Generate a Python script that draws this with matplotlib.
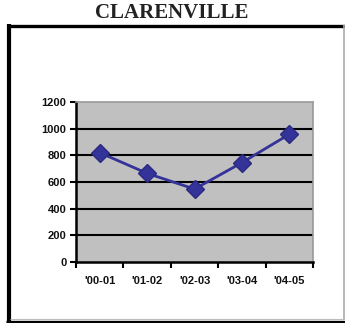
import matplotlib
matplotlib.use("Agg")
import matplotlib.pyplot as plt
from matplotlib.lines import Line2D

# donnees
saisons = ["'00-01", "'01-02", "'02-03", "'03-04", "'04-05"]
valeurs = [820, 665, 547, 745, 958]
graduations = [0, 200, 400, 600, 800, 1000, 1200]

W, H = 345, 323
fig = plt.figure(figsize=(W / 100, H / 100), dpi=100)
fig.patch.set_facecolor("white")

# cadre autour du graphique
def ligne(x0, y0, x1, y1, lw, col):
    fig.add_artist(Line2D([x0 / W, x1 / W], [1 - y0 / H, 1 - y1 / H],
                          transform=fig.transFigure, lw=lw, color=col,
                          solid_capstyle="butt"))

ligne(8.5, 25.5, W, 25.5, 2.4, "black")
ligne(8.5, 24, 8.5, H, 3.0, "black")
ligne(6, 321.5, W, 321.5, 2.4, "black")
ligne(343.5, 25, 343.5, 320, 1.2, "#aaaaaa")
ligne(10, 318.5, 343, 318.5, 0.8, "#bbbbbb")

fig.text(172 / W, 1 - 12.5 / H, "CLARENVILLE", ha="center", va="center",
         family="Liberation Serif", fontweight="bold", fontsize=15, color="#222222")

# zone de tracé
x0, x1 = 76, 313
y0, y1 = 102, 262
ax = fig.add_axes([x0 / W, 1 - y1 / H, (x1 - x0) / W, (y1 - y0) / H])
ax.set_facecolor("#c0c0c0")

pos = list(range(len(saisons)))
ax.plot(pos, valeurs, color="#333399", lw=2, marker="D", markersize=9,
        markerfacecolor="#333399", markeredgecolor="#2a2a80", zorder=3)

ax.set_xlim(-0.5, len(saisons) - 0.5)
ax.set_ylim(0, 1200)
ax.set_yticks(graduations)
for g in graduations[1:-1]:
    ax.axhline(g, color="black", lw=1.5, zorder=1)

ax.set_xticks([p - 0.5 for p in range(len(saisons) + 1)])
ax.set_xticklabels([])
ax.set_xticks(pos, minor=True)
ax.set_xticklabels(saisons, minor=True)
ax.tick_params(axis="x", which="minor", length=0, pad=10)
ax.tick_params(axis="x", which="major", length=4, width=1.5, direction="out")
ax.tick_params(axis="y", length=4, width=1.5, direction="out", pad=3)

for lab in ax.get_yticklabels() + ax.get_xticklabels(minor=True):
    lab.set_fontsize(8)
    lab.set_fontweight("bold")
    lab.set_family("Liberation Sans")
    lab.set_color("#111111")

ax.spines["left"].set_linewidth(1.8)
ax.spines["bottom"].set_linewidth(1.8)
ax.spines["top"].set_color("#999999")
ax.spines["right"].set_color("#999999")
ax.spines["top"].set_linewidth(1.2)
ax.spines["right"].set_linewidth(1.2)

fig.savefig("out.png", dpi=100)
